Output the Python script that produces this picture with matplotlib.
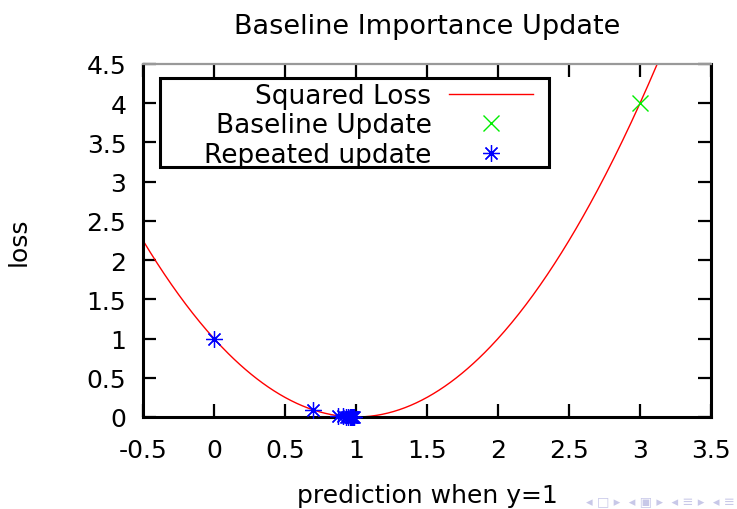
import numpy as np
import matplotlib
matplotlib.use("Agg")
import matplotlib.pyplot as plt
from matplotlib.lines import Line2D
from matplotlib.patches import Rectangle
from matplotlib.ticker import FormatStrFormatter

plt.rcParams['font.family'] = ['DejaVu Sans']
plt.rcParams['axes.unicode_minus'] = False

# data
baseline_x = [3.0]
baseline_y = [4.0]
repeated_x = [0.0, 0.70, 0.87, 0.91, 0.93, 0.945, 0.955, 0.965, 0.97, 0.975, 0.98, 0.985]
repeated_y = [1.0, 0.09, 0.017, 0.008, 0.005, 0.003, 0.002, 0.001, 0.001, 0.0006, 0.0004, 0.0002]
x_ticks = [-0.5, 0, 0.5, 1, 1.5, 2, 2.5, 3, 3.5]
y_ticks = [0, 0.5, 1, 1.5, 2, 2.5, 3, 3.5, 4, 4.5]

# the squared loss curve itself, (p - y)^2 with y = 1
curve_x = np.linspace(-0.5, 3.5, 400)
curve_y = (curve_x - 1) ** 2

star = (8, 2, 0)  # gnuplot style asterisk

fig = plt.figure(figsize=(7.37, 5.10), dpi=100)
ax = fig.add_axes([143/737, 1 - 418/510, (711 - 143)/737, (418 - 65)/510])

ax.plot(curve_x, curve_y, color='#ff0000', lw=1.0, zorder=2)
ax.plot(baseline_x, baseline_y, ls='none', marker='x', ms=11, mew=1.0,
        color='#00ee00', zorder=4, clip_on=False)
ax.plot(repeated_x, repeated_y, ls='none', marker=star, ms=12, mew=0.9,
        color='#0000ff', zorder=5, clip_on=False)

ax.set_xlim(-0.5, 3.5)
ax.set_ylim(0, 4.5)
ax.set_xticks(x_ticks)
ax.set_yticks(y_ticks)
ax.xaxis.set_major_formatter(FormatStrFormatter('%g'))
ax.yaxis.set_major_formatter(FormatStrFormatter('%g'))
ax.tick_params(direction='in', length=9.5, width=1.6, labelsize=18,
               top=True, right=True, color='black')
ax.tick_params(axis='x', pad=15)
ax.tick_params(axis='y', pad=12)

for side in ['left', 'bottom', 'right']:
    ax.spines[side].set_linewidth(2.2)
    ax.spines[side].set_color('black')
ax.spines['top'].set_linewidth(1.6)
ax.spines['top'].set_color('#999999')

ax.set_title("Baseline Importance Update", fontsize=19.5, pad=22)
ax.set_xlabel("prediction when y=1", fontsize=18, labelpad=15)
ax.set_ylabel("loss", fontsize=18, labelpad=40)

# legend: labels on the left, samples on the right
handles = [
    Line2D([], [], color='#ff0000', lw=1.0),
    Line2D([], [], ls='none', marker='x', ms=11, mew=1.0, color='#00ee00'),
    Line2D([], [], ls='none', marker=star, ms=12, mew=0.9, color='#0000ff'),
]
labels = ["Squared Loss", "Baseline Update", "Repeated update"]
leg = fig.legend(handles, labels, loc='upper right', bbox_to_anchor=(533/737, 1 - 84/510),
                 bbox_transform=fig.transFigure, frameon=False, markerfirst=False,
                 fontsize=19, handlelength=3.2, handletextpad=0.65,
                 labelspacing=0.13, borderpad=0, borderaxespad=0)
leg.set_zorder(10)
fig.patches.append(Rectangle((160/737, 1 - 168/510), 389/737, 89/510,
                             transform=fig.transFigure, facecolor='white',
                             edgecolor='black', lw=2.2, zorder=9))

# beamer navigation symbols
fig.text(0.997, 0.003, "\u25c2 \u25a1 \u25b8  \u25c2 \u25a3 \u25b8  \u25c2 \u2261 \u25b8  \u25c2 \u2261",
         ha='right', va='bottom', fontsize=9.5, color='#c8c8e8')

fig.savefig("out.png", dpi=100)
